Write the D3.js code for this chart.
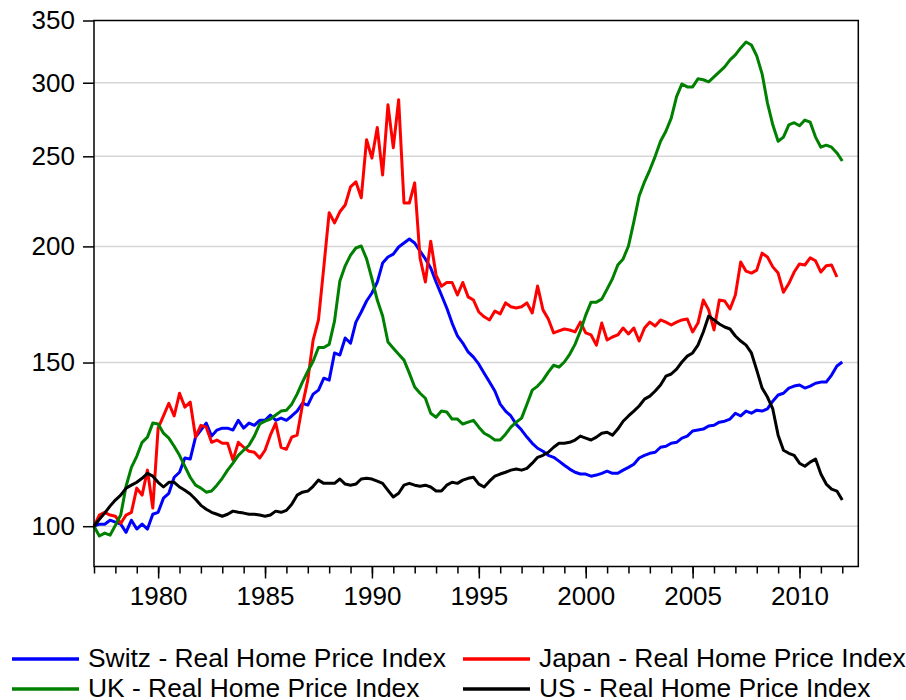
<!DOCTYPE html>
<html>
<head>
<meta charset="utf-8">
<script src="https://cdn.jsdelivr.net/npm/d3@7"></script>
<style>
  body { margin: 0; background: #fff; }
  svg text { font-family: "Liberation Sans", Arial, sans-serif; fill: #000; }
</style>
</head>
<body>
<svg id="chart" width="906" height="700"></svg>
<script>
// quarterly real home price indices, 1977Q1 = 100
const startYear = 1977;

const switz = [100,100.5,100.5,101.5,101.0,100.5,98.5,101.5,99.3,100.5,
  99.3,103.0,103.5,107.2,108.5,112.9,114.3,118.4,118.1,124.7,
  126.9,129.1,125.0,126.9,127.5,127.5,126.9,130.0,127.5,129.1,
  128.4,130.0,130.0,131.7,130.0,130.7,130.0,131.4,133.0,135.6,
  135.0,138.7,140.1,144.3,143.6,153.6,152.8,159.4,157.4,165.8,
  170.0,174.7,178.2,183.1,191.9,194.8,196.2,199.7,201.7,203.7,
  201.7,197.7,193.9,189.6,183.1,177.3,171.7,165.4,160.2,157.4,
  154.0,152.0,149.4,146.1,142.9,139.8,135.3,133.0,131.4,128.7,
  126.9,124.7,122.8,121.3,120.4,119.2,118.6,117.5,116.3,115.2,
  114.3,113.8,113.8,113.2,113.5,114.0,114.6,114.0,114.0,114.9,
  115.7,116.6,118.4,119.2,119.8,120.1,121.6,121.9,122.8,123.1,
  124.4,125.0,126.6,126.9,127.2,128.2,128.4,129.4,129.7,130.4,
  132.3,131.4,133.0,132.3,133.3,133.0,133.7,136.3,138.4,139.0,
  140.8,141.5,141.9,140.8,141.5,142.5,142.9,142.9,145.4,148.7,
  150.2];

const japan = [100,102.8,103.5,102.8,102.5,100.7,102.8,103.5,109.9,108.0,
  114.9,104.6,127.5,131.4,135.6,131.4,139.0,134.3,136.0,124.7,
  128.4,127.8,123.1,123.8,122.8,122.8,117.8,123.1,121.6,120.4,
  120.1,118.4,120.7,125.3,129.1,121.6,121.0,124.7,125.3,135.0,
  143.6,158.6,166.7,190.1,217.4,212.0,217.9,221.6,231.8,234.7,
  225.6,260.5,248.9,268.5,238.7,284.0,255.4,287.6,222.7,222.7,
  234.1,194.4,183.1,202.6,186.3,181.2,182.9,182.9,177.3,182.9,
  176.5,175.1,170.0,168.0,166.7,170.4,169.2,173.9,172.2,171.7,
  172.2,173.9,169.6,181.3,170.9,167.1,161.4,162.2,163.0,162.6,
  161.8,165.8,161.4,160.6,156.6,165.4,158.6,159.8,160.6,163.4,
  161.0,163.4,158.2,163.4,165.8,164.2,166.7,165.8,164.6,165.8,
  166.7,167.1,161.8,165.4,175.1,170.9,162.6,175.1,174.7,171.3,
  177.3,192.4,188.1,187.2,188.6,196.7,194.8,190.1,187.2,178.5,
  182.4,187.7,191.5,191.0,194.4,193.0,187.7,190.6,191.0,185.4];

const uk = [100,97.6,98.3,97.8,100.2,102.8,110.4,115.7,118.9,123.1,
  124.7,129.1,128.8,125.9,124.4,121.9,119.2,116.0,112.9,110.7,
  109.9,108.8,109.1,110.7,112.6,114.9,116.9,119.2,120.7,122.2,
  125.0,128.8,129.7,130.4,131.7,133.0,133.3,135.3,138.7,142.9,
  146.8,150.5,155.7,155.7,156.9,166.2,183.6,190.6,195.7,199.2,
  200.2,193.9,184.6,175.1,168.3,157.8,155.4,153.1,150.9,146.1,
  141.2,139.0,137.3,132.3,131.0,133.0,132.7,130.4,130.4,128.8,
  129.4,130.0,127.8,125.9,125.0,123.8,123.8,125.6,127.8,129.4,
  130.7,135.3,140.1,141.5,143.6,146.5,149.0,148.3,150.2,153.1,
  156.9,162.2,168.7,174.2,174.2,175.5,179.9,184.6,191.0,193.9,
  200.2,212.5,226.6,234.7,241.8,250.0,259.5,266.0,274.8,289.8,
  299.1,296.9,296.9,302.9,302.2,300.7,304.4,308.2,312.0,317.5,
  321.4,327.0,331.9,329.4,320.6,306.7,285.4,270.3,259.5,262.2,
  270.3,271.7,269.7,273.5,272.1,262.2,255.7,257.0,255.7,252.1,
  247.1];

const us = [100,101.7,103.3,105.1,106.7,108.0,109.9,110.7,111.5,112.6,
  114.0,113.2,111.5,110.2,111.5,111.5,110.2,109.3,108.3,106.9,
  105.3,104.3,103.5,103.0,102.5,103.0,103.8,103.5,103.3,103.0,
  103.0,102.8,102.5,102.8,103.8,103.5,104.0,105.6,108.0,108.8,
  109.1,110.4,112.1,111.2,111.2,111.2,112.4,111.0,110.7,111.0,
  112.4,112.6,112.4,111.8,111.2,109.3,107.5,108.5,110.7,111.2,
  110.7,110.4,110.7,110.2,109.1,109.1,110.7,111.5,111.2,112.1,
  112.6,112.9,111.0,110.2,111.8,113.2,113.8,114.3,114.9,115.2,
  114.9,115.4,116.9,118.6,119.2,120.1,121.6,122.8,122.8,123.1,
  123.8,125.0,124.4,123.8,124.7,125.9,126.2,125.3,127.2,129.7,
  131.4,133.0,134.7,137.0,138.0,139.8,141.9,145.0,145.8,147.6,
  150.2,152.4,153.6,156.6,161.8,168.3,166.7,165.0,163.8,163.0,
  160.2,158.2,156.6,153.6,147.2,140.8,137.7,133.7,125.3,120.7,
  119.8,119.2,116.9,116.0,117.2,118.1,113.8,111.0,109.6,109.1,
  106.7];

const seriesNames = ['Switz - Real Home Price Index', 'Japan - Real Home Price Index',
  'UK - Real Home Price Index', 'US - Real Home Price Index'];
const seriesColors = ['#0000ff', '#ff0000', '#008000', '#000000'];
const seriesValues = [switz, japan, uk, us];

const yTickValues = [100, 150, 200, 250, 300, 350];
const gridValues = [100, 150, 200, 250, 300];
const labelYears = [1980, 1985, 1990, 1995, 2000, 2005, 2010];
const minorYears = d3.range(1977, 2013);

const svg = d3.select('#chart');
const fontSize = 26;
const legendFontSize = 26.4;

const x = d3.scaleLinear().domain([1977, 2012.75]).range([94, 858.3]);
const y = d3.scaleLog().domain([90.5, 350]).range([566.5, 20.5]);

// grid
svg.append('g')
    .selectAll('line')
    .data(gridValues)
    .enter()
    .append('line')
    .attr('x1', x.range()[0])
    .attr('x2', x.range()[1])
    .attr('y1', (d) => y(d))
    .attr('y2', (d) => y(d))
    .attr('stroke', '#d6d6d6')
    .attr('stroke-width', 1.5);

// series
const line = d3.line()
    .x((d, i) => x(startYear + i / 4))
    .y((d) => y(d));

seriesValues.forEach((vals, k) => {
    svg.append('path')
        .datum(vals)
        .attr('d', line)
        .attr('fill', 'none')
        .attr('stroke', seriesColors[k])
        .attr('stroke-width', 3)
        .attr('stroke-linejoin', 'round');
});

// frame
svg.append('rect')
    .attr('x', x.range()[0])
    .attr('y', y.range()[1])
    .attr('width', x.range()[1] - x.range()[0])
    .attr('height', y.range()[0] - y.range()[1])
    .attr('fill', 'none')
    .attr('stroke', '#000')
    .attr('stroke-width', 1.5);

// y axis
const yAxis = d3.axisLeft(y)
    .tickValues(yTickValues)
    .tickFormat(d3.format('d'))
    .tickSize(11)
    .tickPadding(8);
const gy = svg.append('g')
    .attr('transform', `translate(${x.range()[0]},0)`)
    .call(yAxis);
gy.select('.domain').remove();

// x axis, yearly minor ticks and 5-year labelled ticks
const gxMinor = svg.append('g')
    .attr('transform', `translate(0,${y.range()[0]})`)
    .call(d3.axisBottom(x).tickValues(minorYears).tickSize(7).tickFormat(''));
gxMinor.select('.domain').remove();

const gx = svg.append('g')
    .attr('transform', `translate(0,${y.range()[0]})`)
    .call(d3.axisBottom(x).tickValues(labelYears).tickSize(12).tickPadding(8)
        .tickFormat(d3.format('d')));
gx.select('.domain').remove();

svg.selectAll('.tick line').attr('stroke', '#000').attr('stroke-width', 1.5);
svg.selectAll('.tick text')
    .attr('font-size', fontSize)
    .attr('font-family', '"Liberation Sans", Arial, sans-serif')
    .attr('fill', '#000');

// legend
const legendPos = [
    { lx: 12, ly: 659, tx: 88, ty: 667 },
    { lx: 463, ly: 659, tx: 539, ty: 667 },
    { lx: 12, ly: 689, tx: 88, ty: 697 },
    { lx: 463, ly: 689, tx: 539, ty: 697 }
];
const legend = svg.append('g');
seriesNames.forEach((name, k) => {
    const p = legendPos[k];
    legend.append('line')
        .attr('x1', p.lx)
        .attr('x2', p.lx + 67)
        .attr('y1', p.ly)
        .attr('y2', p.ly)
        .attr('stroke', seriesColors[k])
        .attr('stroke-width', 3.5);
    legend.append('text')
        .attr('x', p.tx)
        .attr('y', p.ty)
        .attr('font-size', legendFontSize)
        .text(name);
});
</script>
</body>
</html>
